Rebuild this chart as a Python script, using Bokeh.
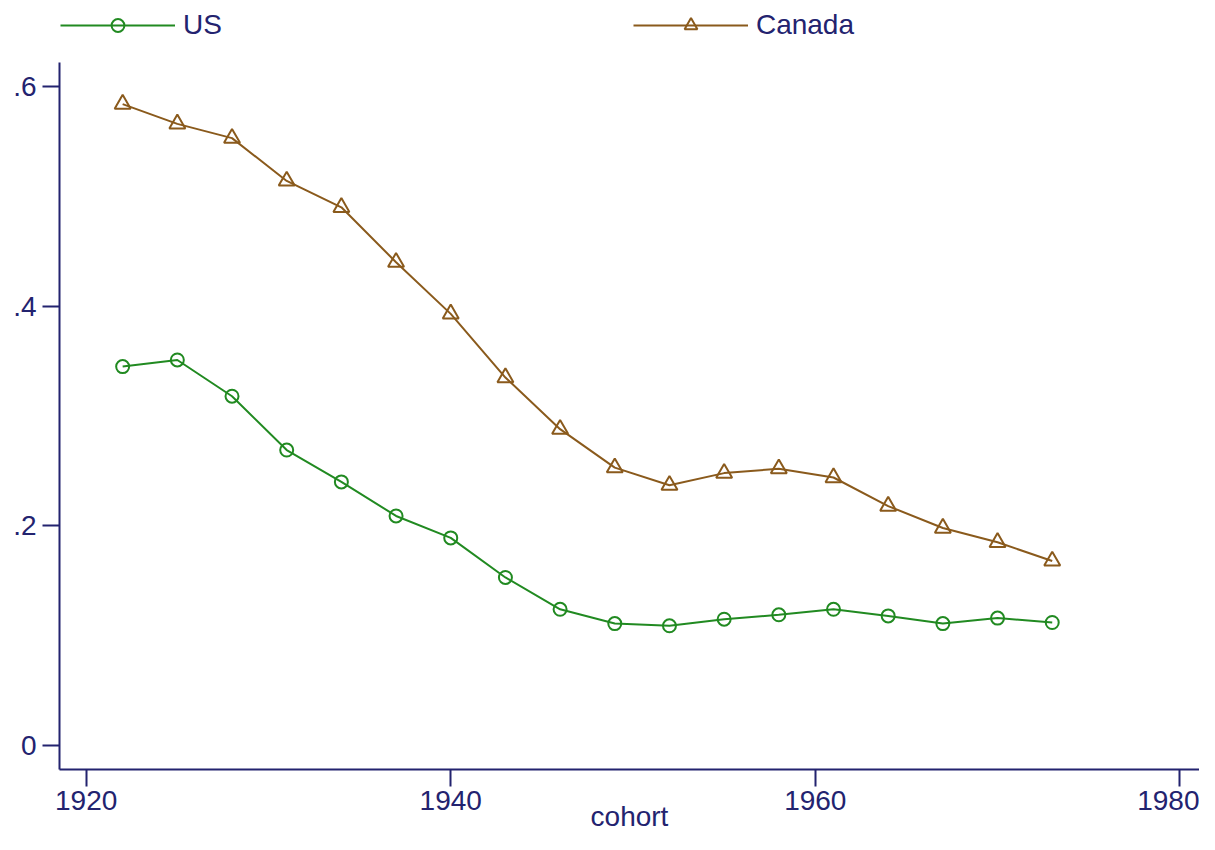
from bokeh.plotting import figure
from bokeh.models import (ColumnDataSource, Range1d, FixedTicker, Legend, LegendItem)
from bokeh.embed import file_html
from bokeh.resources import INLINE

cohort = [1922, 1925, 1928, 1931, 1934, 1937, 1940, 1943, 1946, 1949,
          1952, 1955, 1958, 1961, 1964, 1967, 1970, 1973]
us = [0.345, 0.351, 0.318, 0.269, 0.240, 0.209, 0.189, 0.153, 0.124, 0.111,
      0.109, 0.115, 0.119, 0.124, 0.118, 0.111, 0.116, 0.112]
canada = [0.584, 0.566, 0.553, 0.514, 0.490, 0.440, 0.393, 0.335, 0.288, 0.253,
          0.237, 0.248, 0.252, 0.244, 0.218, 0.198, 0.185, 0.168]
x_ticks = [1920, 1940, 1960, 1980]
y_ticks = [0, 0.2, 0.4, 0.6]
y_tick_labels = {0: "0", 0.2: ".2", 0.4: ".4", 0.6: ".6"}

FONT = "Liberation Sans"
TXT = "#23236f"
AX = "#23236f"
GREEN = "#218a21"
BROWN = "#8a5a1c"

Y_LO, Y_AXIS_TOP, Y_HI = -0.02185, 0.6219, 0.6783

src = ColumnDataSource(dict(x=cohort, us=us, canada=canada))

p = figure(width=1199, height=834, output_backend="svg", toolbar_location=None,
           x_range=Range1d(1918.535, 1981.08), y_range=Range1d(Y_LO, Y_HI),
           min_border_left=59, min_border_right=0, min_border_top=0, min_border_bottom=65)
p.outline_line_color = None
p.background_fill_color = "white"
p.border_fill_color = "white"
p.xgrid.grid_line_color = None
p.ygrid.grid_line_color = None

for ax in (p.xaxis[0], p.yaxis[0]):
    ax.axis_line_color = AX
    ax.axis_line_width = 2
    ax.major_tick_line_color = AX
    ax.major_tick_line_width = 2
    ax.major_tick_out = 17
    ax.major_tick_in = 0
    ax.minor_tick_line_color = None
    ax.major_label_text_font = FONT
    ax.major_label_text_font_size = "28px"
    ax.major_label_text_color = TXT

p.xaxis[0].ticker = FixedTicker(ticks=x_ticks)
p.xaxis[0].major_label_standoff = 4
p.xaxis[0].axis_label = "cohort"
p.xaxis[0].axis_label_standoff = -12
p.xaxis[0].axis_label_text_font = FONT
p.xaxis[0].axis_label_text_font_size = "28px"
p.xaxis[0].axis_label_text_font_style = "normal"
p.xaxis[0].axis_label_text_color = TXT
p.yaxis[0].ticker = FixedTicker(ticks=y_ticks)
p.yaxis[0].major_label_overrides = y_tick_labels
p.yaxis[0].major_label_standoff = 6
p.yaxis[0].bounds = (Y_LO, Y_AXIS_TOP)

us_line = p.line("x", "us", source=src, line_color=GREEN, line_width=2)
us_pts = p.scatter("x", "us", source=src, marker="circle", size=13,
                   line_color=GREEN, line_width=2, fill_color=None)
ca_line = p.line("x", "canada", source=src, line_color=BROWN, line_width=2)
ca_pts = p.scatter("x", "canada", source=src, marker="triangle", size=16,
                   line_color=BROWN, line_width=2, fill_color=None)

lg = Legend(items=[LegendItem(label="US", renderers=[us_line, us_pts]),
                   LegendItem(label="Canada", renderers=[ca_line, ca_pts])],
            location=(1, 728), orientation="horizontal", padding=0, margin=0, spacing=411,
            border_line_color=None, background_fill_alpha=0,
            glyph_width=115, glyph_height=32, label_standoff=8,
            label_text_font=FONT, label_text_font_size="28px",
            label_text_color=TXT, label_height=30)
p.add_layout(lg, "center")

open("out.html", "w").write(file_html(p, INLINE))
